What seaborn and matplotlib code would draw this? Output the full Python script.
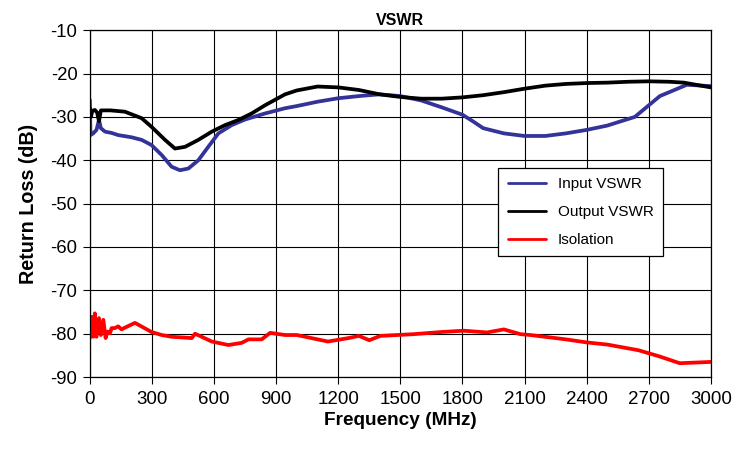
import pandas as pd
import matplotlib
matplotlib.use("Agg")
import matplotlib.pyplot as plt
import seaborn as sns

# Datos (MHz, dB)
input_freq = [0, 3, 16, 32, 44, 53, 73, 105, 137, 201, 250, 298, 347, 395, 435, 476,
              524, 572, 621, 685, 750, 847, 943, 1000, 1100, 1200, 1300, 1400, 1500,
              1600, 1700, 1800, 1850, 1900, 2000, 2100, 2200, 2300, 2400, 2500, 2633,
              2754, 2884, 3000]
input_vswr = [-26.1, -34.2, -33.8, -33.0, -30.7, -32.6, -33.4, -33.7, -34.2, -34.7, -35.3,
              -36.5, -38.8, -41.5, -42.3, -41.9, -40.0, -36.9, -33.8, -31.9, -30.6, -29.2,
              -28.0, -27.5, -26.5, -25.7, -25.2, -24.8, -25.2, -26.2, -27.8, -29.5, -31.0,
              -32.6, -33.8, -34.4, -34.4, -33.8, -33.0, -32.0, -30.0, -25.2, -22.6, -22.9]

output_freq = [0, 5, 12, 24, 35, 44, 53, 100, 169, 250, 298, 363, 411, 460, 524, 589, 653,
               718, 782, 847, 943, 1000, 1100, 1200, 1300, 1400, 1500, 1600, 1700, 1800,
               1900, 2000, 2100, 2200, 2300, 2400, 2500, 2600, 2700, 2800, 2870, 3000]
output_vswr = [-28.0, -30.0, -28.6, -28.4, -29.0, -31.0, -28.5, -28.5, -28.8, -30.3, -32.3,
               -35.3, -37.3, -36.9, -35.3, -33.4, -31.9, -30.7, -29.2, -27.3, -24.8, -23.9,
               -23.0, -23.2, -23.8, -24.8, -25.4, -25.8, -25.8, -25.5, -25.0, -24.3, -23.5,
               -22.8, -22.4, -22.2, -22.1, -21.9, -21.8, -21.9, -22.1, -23.2]

iso_freq = [0, 8, 16, 24, 32, 44, 53, 65, 76, 85, 97, 105, 121, 137, 153, 169, 218, 298,
            347, 395, 492, 508, 540, 589, 669, 734, 766, 830, 871, 943, 1000, 1100, 1150,
            1250, 1300, 1350, 1403, 1564, 1700, 1806, 1919, 2000, 2080, 2129, 2300, 2400,
            2500, 2650, 2750, 2850, 3000]
isolation = [-81.0, -76.1, -80.7, -75.3, -80.7, -76.4, -80.3, -76.8, -81.0, -79.5, -79.9,
             -78.7, -78.7, -78.3, -79.0, -78.6, -77.5, -79.6, -80.3, -80.7, -81.0, -80.0,
             -80.7, -81.8, -82.6, -82.1, -81.3, -81.3, -79.8, -80.3, -80.3, -81.3, -81.8,
             -81.0, -80.5, -81.5, -80.5, -80.1, -79.6, -79.3, -79.7, -79.0, -80.1, -80.3,
             -81.3, -82.0, -82.5, -83.8, -85.2, -86.8, -86.5]

series_names = ["Input VSWR", "Output VSWR", "Isolation"]
colors = ["#333399", "#000000", "#FF0000"]

df = pd.concat([
    pd.DataFrame({"freq": input_freq, "db": input_vswr, "serie": series_names[0]}),
    pd.DataFrame({"freq": output_freq, "db": output_vswr, "serie": series_names[1]}),
    pd.DataFrame({"freq": iso_freq, "db": isolation, "serie": series_names[2]}),
])

sns.set_style("ticks")
plt.rcParams['font.family'] = ['Liberation Sans', 'DejaVu Sans']
plt.rcParams['axes.unicode_minus'] = False
plt.rcParams['text.color'] = 'black'
plt.rcParams['axes.labelcolor'] = 'black'

fig = plt.figure(figsize=(7.49, 4.5), dpi=100)
ax = fig.add_axes([0.120, 0.162, 0.829, 0.771])

sns.lineplot(data=df, x="freq", y="db", hue="serie", hue_order=series_names,
             palette=colors, estimator=None, sort=False, linewidth=2.7, ax=ax)

ax.set_xlim(0, 3000)
ax.set_ylim(-90, -10)
ax.set_xticks(range(0, 3001, 300))
ax.set_yticks(range(-90, -9, 10))
ax.grid(True, color="black", linewidth=0.8)
ax.set_axisbelow(True)
for s in ax.spines.values():
    s.set_color("black")
    s.set_linewidth(0.9)
ax.tick_params(axis="both", direction="out", length=5, width=0.8, colors="black")
ax.tick_params(axis="x", labelsize=13.5, pad=5)
ax.tick_params(axis="y", labelsize=13.3, pad=4)

ax.set_title("VSWR", fontsize=11.5, fontweight="bold", pad=4)
ax.set_xlabel("Frequency (MHz)", fontsize=13.7, fontweight="bold", labelpad=3)
ax.set_ylabel("Return Loss (dB)", fontsize=14.2, fontweight="bold", labelpad=9)

leg = ax.legend(loc="upper left", bbox_to_anchor=(0.658, 0.602), fontsize=11,
                frameon=True, fancybox=False, shadow=False, borderpad=0.6,
                labelspacing=0.9, handlelength=2.5, borderaxespad=0)
leg.get_frame().set_edgecolor("black")
leg.get_frame().set_linewidth(0.9)
leg.get_frame().set_alpha(1)
for line in leg.get_lines():
    line.set_linewidth(2)

plt.savefig("out.png", dpi=100)
plt.close()
